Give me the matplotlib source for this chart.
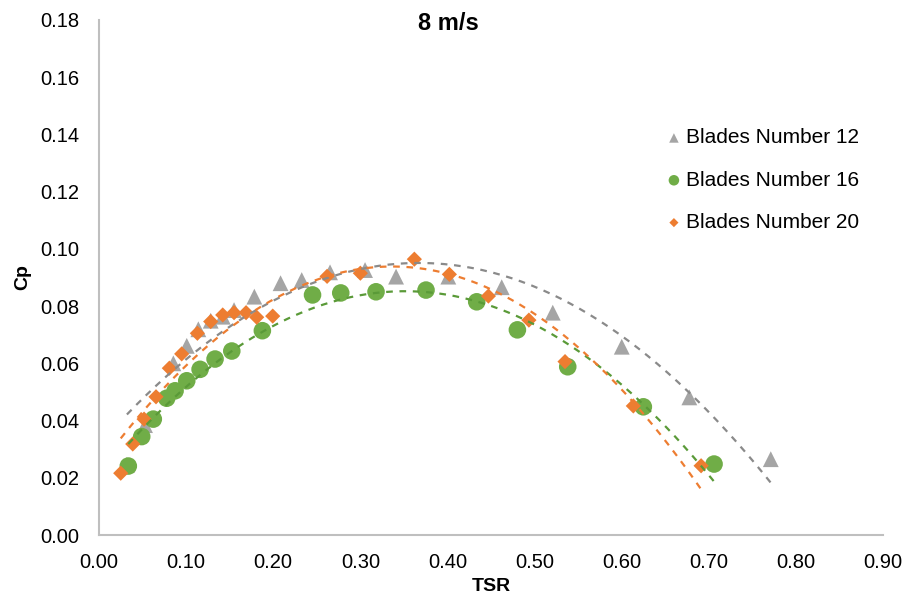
import numpy as np
import matplotlib.pyplot as plt

plt.rcParams['font.family'] = ['Liberation Sans', 'DejaVu Sans']

# Blades Number 12 (grey triangles)
tsr_12 = [0.032, 0.0528, 0.0853, 0.1007, 0.114, 0.1282, 0.142, 0.155, 0.1783, 0.2084,
          0.2327, 0.2652, 0.3054, 0.341, 0.401, 0.4623, 0.5209, 0.6001, 0.6777, 0.7712]
cp_12 = [0.0245, 0.0384, 0.0600, 0.0661, 0.0719, 0.0749, 0.0763, 0.0786, 0.0833, 0.0880,
         0.0891, 0.0918, 0.0926, 0.0903, 0.0903, 0.0866, 0.0777, 0.0658, 0.0481, 0.0265]

# Blades Number 16 (green circles)
tsr_16 = [0.0336, 0.049, 0.0623, 0.0777, 0.0873, 0.1007, 0.116, 0.1332, 0.1524, 0.1875,
          0.2451, 0.2775, 0.318, 0.3754, 0.4336, 0.4803, 0.5381, 0.6249, 0.7061]
cp_16 = [0.0241, 0.0344, 0.0405, 0.0478, 0.0504, 0.0539, 0.0579, 0.0615, 0.0643, 0.0714,
         0.0839, 0.0846, 0.0850, 0.0856, 0.0815, 0.0717, 0.0588, 0.0448, 0.0248]

# Blades Number 20 (orange diamonds)
tsr_20 = [0.0249, 0.0387, 0.0517, 0.0654, 0.0807, 0.0949, 0.1129, 0.1282, 0.142, 0.155,
          0.1688, 0.181, 0.1994, 0.2618, 0.300, 0.362, 0.4022, 0.447, 0.4935, 0.535,
          0.6134, 0.6912]
cp_20 = [0.0216, 0.0318, 0.0405, 0.0483, 0.0583, 0.0633, 0.0705, 0.0746, 0.0769, 0.0777,
         0.0777, 0.0761, 0.0765, 0.0904, 0.0915, 0.0964, 0.0911, 0.0835, 0.0751, 0.0606,
         0.0451, 0.0242]

GREY = '#A5A5A5'
GREEN = '#70AD47'
ORANGE = '#ED7D31'

fig = plt.figure(figsize=(9.07, 6.05), dpi=100)
ax = fig.add_axes([0.1092, 0.1157, 0.8643, 0.8513])

series = [
    (tsr_12, cp_12, GREY, '#8a8a8a', '^', 130, 'Blades Number 12'),
    (tsr_16, cp_16, GREEN, '#5a9a38', 'o', 160, 'Blades Number 16'),
    (tsr_20, cp_20, ORANGE, ORANGE, 'D', 60, 'Blades Number 20'),
]

for x, y, col, lcol, mk, s, lab in series:
    ax.scatter(x, y, s=s, marker=mk, color=col, edgecolors='none', label=lab, zorder=2)

# 2nd order polynomial trendlines
for x, y, col, lcol, mk, s, lab in series:
    coef = np.polyfit(x, y, 2)
    xx = np.linspace(min(x), max(x), 200)
    ax.plot(xx, np.polyval(coef, xx), color=lcol, lw=1.6, ls=(0, (3, 3)), zorder=3)

ax.set_xlim(0, 0.9)
ax.set_ylim(0, 0.18)
ax.set_xticks(np.arange(0, 0.91, 0.1))
ax.set_yticks(np.arange(0, 0.181, 0.02))
ax.set_xticklabels([f'{v:.2f}' for v in np.arange(0, 0.91, 0.1)])
ax.set_yticklabels([f'{v:.2f}' for v in np.arange(0, 0.181, 0.02)])
ax.tick_params(length=0, labelsize=14.5, colors='#000000')
ax.tick_params(axis='y', pad=14)
ax.tick_params(axis='x', pad=13)
for side in ['top', 'right']:
    ax.spines[side].set_visible(False)
for side in ['left', 'bottom']:
    ax.spines[side].set_color('#BFBFBF')
    ax.spines[side].set_linewidth(1.5)

ax.set_xlabel('TSR', fontsize=14, fontweight='bold', labelpad=4)
ax.set_ylabel('Cp', fontsize=14, fontweight='bold', labelpad=7)
fig.text(448 / 907, 1 - 23 / 605, '8 m/s', fontsize=17, fontweight='bold',
         ha='center', va='center')

ax.legend(loc='upper left', bbox_to_anchor=(651 / 907, 1 - 118 / 605),
          bbox_transform=fig.transFigure, frameon=False, fontsize=15,
          markerscale=0.6, handletextpad=0.0, labelspacing=1.12, borderpad=0,
          handlelength=1.2)

fig.savefig('out.png', dpi=100)
